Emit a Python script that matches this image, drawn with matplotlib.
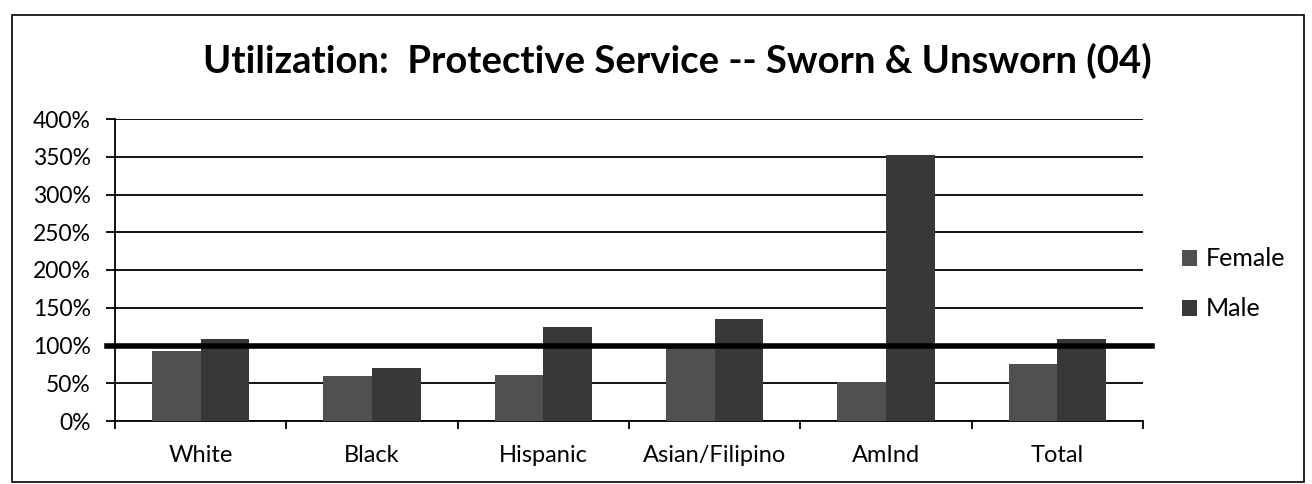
import matplotlib
matplotlib.use('Agg')
import matplotlib.pyplot as plt
import numpy as np
from matplotlib.ticker import FuncFormatter, MultipleLocator
from matplotlib.patches import Rectangle

# utilization ratios by group (1.0 = 100%)
groups = ['White', 'Black', 'Hispanic', 'Asian/Filipino', 'AmInd', 'Total']
female = [0.93, 0.60, 0.61, 0.98, 0.52, 0.76]
male = [1.09, 0.70, 1.24, 1.35, 3.52, 1.09]
parity = 1.0

plt.rcParams['font.family'] = ['Lato', 'DejaVu Sans']

fig = plt.figure(figsize=(13.12, 4.84), dpi=100)
ax = fig.add_axes([115 / 1312, 1 - 421 / 484, 1028 / 1312, 302 / 484])

x = np.arange(len(groups))
w = 0.285
ax.bar(x - w / 2, female, w, color='#505050', label='Female', zorder=3)
ax.bar(x + w / 2, male, w, color='#383838', label='Male', zorder=3)

# heavy line at 100%, running a little past both ends of the plot
ax.axhline(parity, xmin=-0.008, xmax=1.009, color='black', lw=4, zorder=4, clip_on=False)

ax.set_xlim(-0.5, len(groups) - 0.5)
ax.set_ylim(0, 4)
ax.yaxis.set_major_locator(MultipleLocator(0.5))
ax.yaxis.set_major_formatter(FuncFormatter(lambda v, p: '%d%%' % round(v * 100)))
ax.grid(axis='y', color='black', lw=1.3, zorder=1)

ax.set_xticks(x)
ax.set_xticklabels(groups)
ax.set_xticks(np.arange(-0.5, len(groups)), minor=True)
ax.tick_params(axis='x', which='major', length=0, pad=17, labelsize=17)
ax.tick_params(axis='x', which='minor', length=6, width=1.3, direction='out')
ax.tick_params(axis='y', length=6.5, width=1.3, direction='out', labelsize=16.5, pad=11)

for s in ['top', 'right']:
    ax.spines[s].set_visible(False)
ax.spines['left'].set_linewidth(1.3)
ax.spines['bottom'].set_linewidth(1.3)

leg = fig.legend(loc='upper left', bbox_to_anchor=(1169 / 1312, 1 - 235 / 484),
                 frameon=False, fontsize=18, handlelength=0.6, handleheight=0.6,
                 handletextpad=0.35, labelspacing=1.08, borderpad=0)

fig.text(677 / 1312, 1 - 61 / 484, 'Utilization:  Protective Service -- Sworn & Unsworn (04)',
         ha='center', va='center', fontsize=27.5, fontweight='bold')

# outer chart frame
fig.add_artist(Rectangle((12 / 1312, 2 / 484), 1292 / 1312, 467 / 484, transform=fig.transFigure,
                         fill=False, edgecolor='black', lw=1.2))

fig.savefig('out.png', dpi=100)
